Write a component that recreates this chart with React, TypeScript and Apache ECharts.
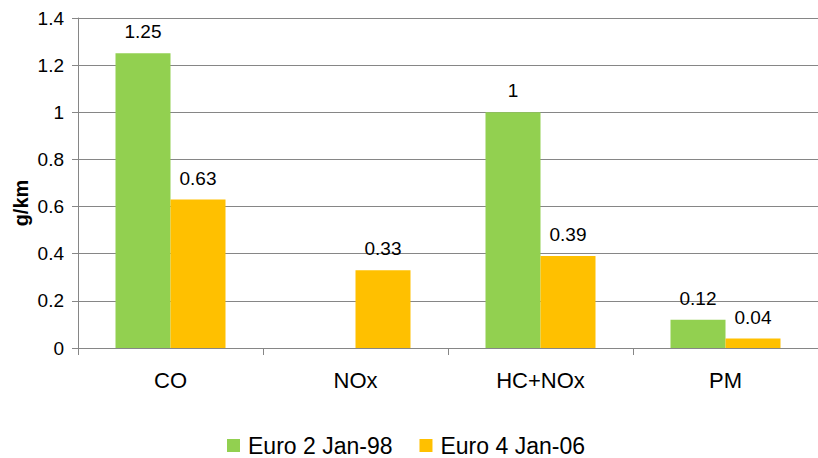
import React, { useEffect, useRef } from "react";
import * as echarts from "echarts";

const categories = ["CO", "NOx", "HC+NOx", "PM"];
const euro2Values: (number | null)[] = [1.25, null, 1, 0.12];
const euro4Values: (number | null)[] = [0.63, 0.33, 0.39, 0.04];
const seriesNames = ["Euro 2 Jan-98", "Euro 4 Jan-06"];
const yTicks = { min: 0, max: 1.4, interval: 0.2 };
const unitLabel = "g/km";

const FONT = "'Liberation Sans', Arial, Helvetica, sans-serif";
const GRAY = "#868686";

export default function App() {
  const ref = useRef<HTMLDivElement>(null);

  useEffect(() => {
    if (!ref.current) return;
    const chart = echarts.init(ref.current, undefined, { renderer: "svg" });
    const labelCfg = {
      show: true,
      position: "top" as const,
      distance: 12,
      color: "#000",
      fontSize: 19,
      fontFamily: FONT,
    };
    chart.setOption({
      animation: false,
      backgroundColor: "#fff",
      textStyle: { fontFamily: FONT },
      grid: { left: 78, top: 18, width: 748, height: 330, containLabel: false },
      legend: {
        top: 429,
        left: 222,
        itemWidth: 13,
        itemHeight: 13,
        itemGap: 27,
        icon: "rect",
        textStyle: {
          fontSize: 23,
          lineHeight: 22,
          color: "#000",
          fontFamily: FONT,
          padding: [0, 0, 0, 3],
        },
        data: seriesNames,
      },
      xAxis: {
        type: "category",
        data: categories,
        axisLine: { lineStyle: { color: GRAY, width: 1 } },
        axisTick: { show: true, length: 7, alignWithLabel: false, lineStyle: { color: GRAY } },
        axisLabel: { color: "#000", fontSize: 22, margin: 21, fontFamily: FONT },
      },
      yAxis: {
        type: "value",
        min: yTicks.min,
        max: yTicks.max,
        interval: yTicks.interval,
        axisLine: { show: true, lineStyle: { color: GRAY, width: 1 } },
        axisTick: { show: true, length: 6, lineStyle: { color: GRAY } },
        axisLabel: {
          color: "#000",
          fontSize: 19,
          margin: 14,
          fontFamily: FONT,
          formatter: (v: number) => String(Math.round(v * 10) / 10),
        },
        splitLine: { show: true, lineStyle: { color: GRAY, width: 1 } },
      },
      graphic: [
        {
          type: "text",
          x: 21,
          y: 203,
          rotation: Math.PI / 2,
          style: {
            text: unitLabel,
            font: `bold 20px ${FONT}`,
            fill: "#000",
            textAlign: "center",
            textVerticalAlign: "middle",
            align: "center",
            verticalAlign: "middle",
          },
        },
      ],
      series: [
        {
          name: seriesNames[0],
          type: "bar",
          data: euro2Values,
          barWidth: 55,
          barGap: "0%",
          itemStyle: { color: "#92D050" },
          label: labelCfg,
        },
        {
          name: seriesNames[1],
          type: "bar",
          data: euro4Values,
          barWidth: 55,
          barGap: "0%",
          itemStyle: { color: "#FFC000" },
          label: labelCfg,
        },
      ],
    });
    return () => chart.dispose();
  }, []);

  return (
    <div
      ref={ref}
      style={{ position: "fixed", top: 0, left: 0, width: 818, height: 458 }}
    />
  );
}
